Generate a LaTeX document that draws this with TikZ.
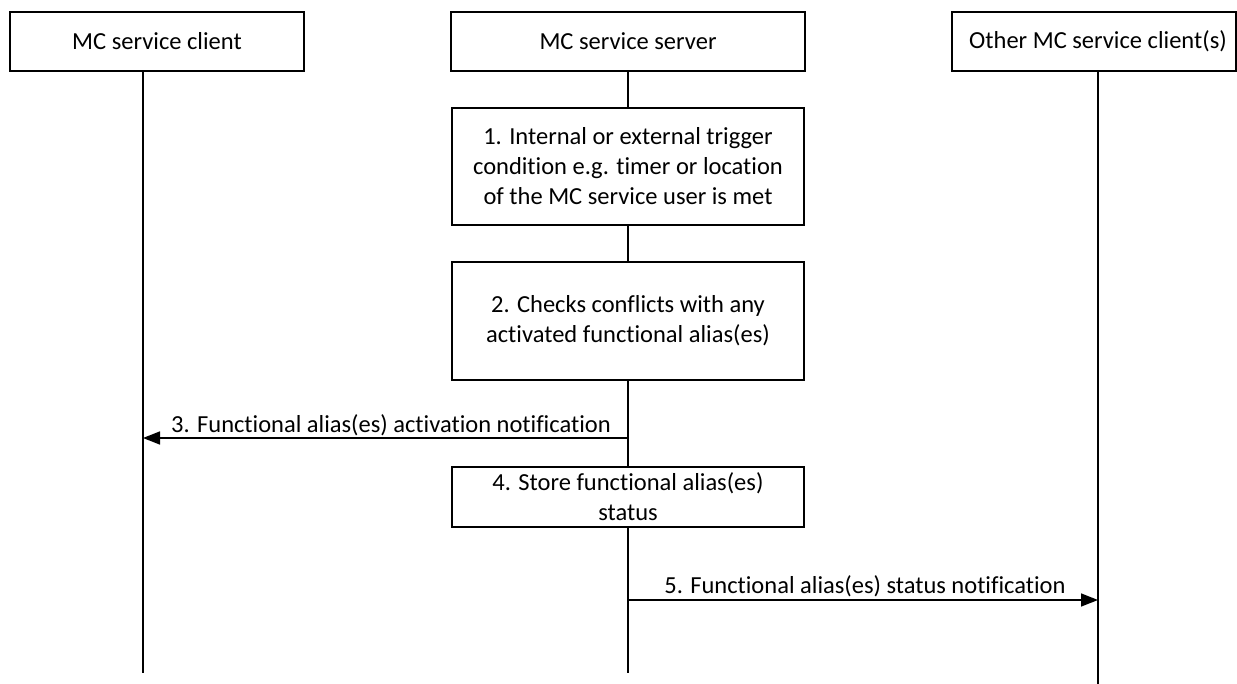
\documentclass[tikz,border=0pt]{standalone}
\usepackage{fontspec}
\setmainfont{Carlito}[Ligatures=NoCommon]
\usetikzlibrary{arrows.meta}
\begin{document}
\begin{tikzpicture}[x=1pt,y=-1pt,
  every node/.style={font=\fontsize{24.5}{30}\selectfont},
  hdr/.style={draw,line width=1.5pt,inner sep=0pt,align=center},
  act/.style={draw,line width=1.5pt,inner sep=0pt,align=center},
  life/.style={line width=1.5pt},
  msg/.style={line width=1.5pt,-{Triangle[length=17pt,width=13pt]}},
  lbl/.style={inner sep=0pt,anchor=base}
]
\useasboundingbox (0,0) rectangle (1237,684);
\fill[white] (0,0) rectangle (1237,684);
% headers
\node[hdr,minimum width=294pt,minimum height=59pt] (client) at (157,41.5) {MC service client};
\node[hdr,minimum width=354pt,minimum height=59pt] (server) at (628,41.5) {MC service server};
\node[hdr,minimum width=284pt,minimum height=59pt] (other) at (1094,41.5) {\hspace*{8pt}Other MC service client(s)};
% action boxes
\node[act,minimum width=352pt,minimum height=117pt] (s1) at (628,166.5) {1. Internal or external trigger\\condition e.g. timer or location\\of the MC service user is met};
\node[act,minimum width=352pt,minimum height=118pt] (s2) at (628,321) {2. Checks conflicts with any\\activated functional alias(es)};
\node[act,minimum width=352pt,minimum height=60pt] (s4) at (628,497) {4. Store functional alias(es)\\status};
% lifeline coordinates
\coordinate (cTop) at (143,71);
\coordinate (cEnd) at (143,673);
\coordinate (oTop) at (1098,71);
\coordinate (oEnd) at (1098,684);
\coordinate (sEnd) at (628,673);
\coordinate (m3s) at (628,438);
\coordinate (m3e) at (143,438);
\coordinate (m5s) at (628,600);
\coordinate (m5e) at (1098,600);
% lifelines
\draw[life] (cTop) -- (cEnd);
\draw[life] (oTop) -- (oEnd);
\draw[life] (server.south) -- (s1.north);
\draw[life] (s1.south) -- (s2.north);
\draw[life] (s2.south) -- (s4.north);
\draw[life] (s4.south) -- (sEnd);
% messages
\draw[msg] (m3s) -- (m3e);
\node[lbl] (l3) at (391,432) {3. Functional alias(es) activation notification};
\draw[msg] (m5s) -- (m5e);
\node[lbl] (l5) at (865,593) {5. Functional alias(es) status notification};
\end{tikzpicture}
\end{document}
